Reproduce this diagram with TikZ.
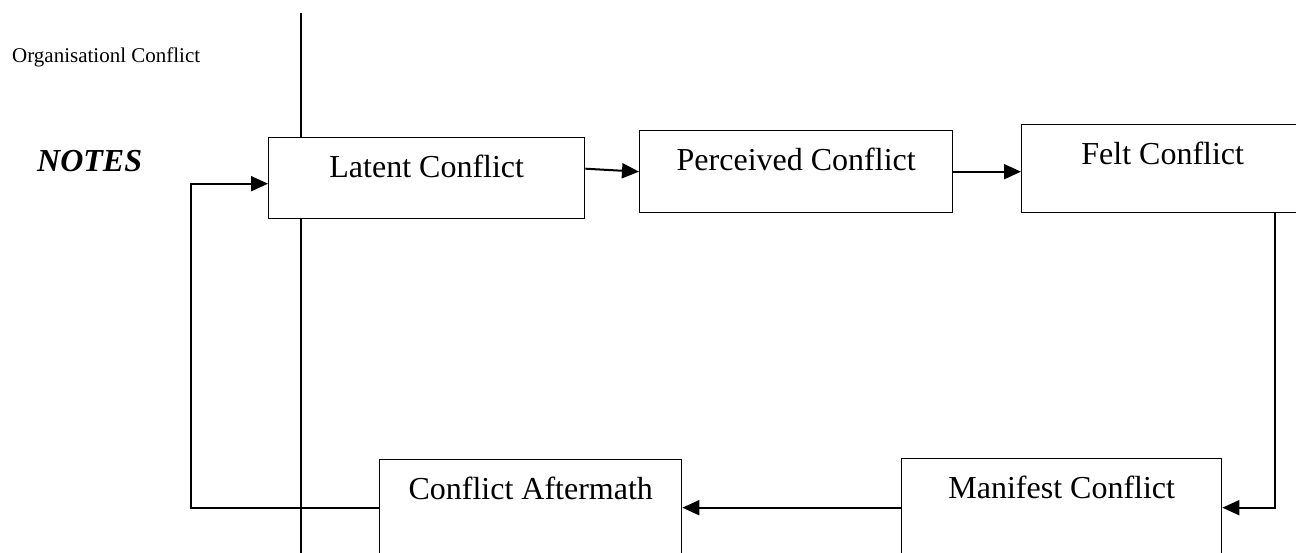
\documentclass[tikz,border=0pt]{standalone}
\usepackage{fontspec}
\setmainfont{Liberation Serif}
\usepackage{tikz}
\usetikzlibrary{arrows.meta,positioning,calc}

\begin{document}
\begin{tikzpicture}[
  x=1pt, y=-1pt,
  bx/.style={draw, fill=white, line width=1.4pt, anchor=north west, inner xsep=4pt, inner ysep=4pt,
             text height=36pt, text depth=37pt, font=\fontsize{32}{36}\selectfont},
  arr/.style={-{Triangle[length=17pt,width=15pt]}, line width=2pt},
  ln/.style={line width=1.4pt}
]
\useasboundingbox (0,0) rectangle (1296,553);
\clip (0,0) rectangle (1296,553);
% margin line
\coordinate (margintop) at (301,13);
\coordinate (marginbot) at (301,560);
\draw[ln] (margintop) -- (marginbot);
\node[anchor=west, inner sep=0pt, font=\fontsize{21}{24}\selectfont] (title) at (12,57) {Organisationl Conflict};
\node[anchor=west, inner sep=0pt, font=\fontsize{32}{36}\selectfont\bfseries\itshape] (notes) at (37,161) {NOTES};
% stages
\node[bx, minimum width=316pt]                  (latent)    at (268,137)  {Latent Conflict};
\node[bx, minimum width=313pt, text depth=38pt] (perceived) at (639,130)  {Perceived Conflict};
\node[bx, minimum width=282pt, text depth=44pt] (felt)      at (1021,124) {Felt Conflict};
\node[bx, minimum width=320pt, text depth=54pt] (manifest)  at (901,458)  {Manifest Conflict};
\node[bx, minimum width=302pt, text depth=52pt] (aftermath) at (379,459)  {Conflict Aftermath};
% connectors
\draw[arr] ([yshift=9.5pt]latent.east) -- (perceived.west);
\draw[arr] (perceived.east) -- (perceived.east -| felt.west);
\draw[arr] ([xshift=112pt]felt.south) |- (manifest.east);
\draw[arr] (manifest.west) -- (manifest.west -| aftermath.east);
\draw[arr] (aftermath.west) -- ++(-188,0) |- ([yshift=-5.5pt]latent.west);
\end{tikzpicture}
\end{document}
